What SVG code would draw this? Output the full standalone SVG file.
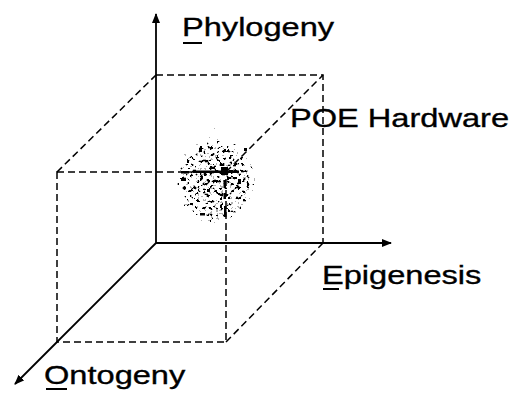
<svg xmlns="http://www.w3.org/2000/svg" width="514" height="393" viewBox="0 0 514 393">
  <style>
    .axis { stroke: #000; stroke-width: 1.8; fill: none; }
    .edge { stroke: #000; stroke-width: 1.5; fill: none; stroke-dasharray: 7 4; }
    .label { font-family: "Liberation Sans", Arial, sans-serif; font-size: 26.5px; fill: #000; stroke: #000; stroke-width: 0.35; }
    .ul { fill: #000; }
  </style>
  <defs>
    <marker id="head" viewBox="0 0 10 8" refX="9" refY="4" markerWidth="10" markerHeight="8" markerUnits="userSpaceOnUse" orient="auto">
      <path d="M0,0 L10,4 L0,8 z" fill="#000"/>
    </marker>
    <radialGradient id="cloudFade" cx="0.5" cy="0.5" r="0.5">
      <stop offset="0" stop-color="#000" stop-opacity="1"/>
      <stop offset="0.7" stop-color="#000" stop-opacity="0.85"/>
      <stop offset="1" stop-color="#000" stop-opacity="0"/>
    </radialGradient>
    <!-- speckled point cloud: thresholded noise, denser toward the centre -->
    <filter id="grain" x="160" y="125" width="115" height="115" filterUnits="userSpaceOnUse">
      <feTurbulence type="fractalNoise" baseFrequency="0.3" numOctaves="2" seed="11" result="noise"/>
      <feColorMatrix in="noise" type="matrix" values="0 0 0 0 0  0 0 0 0 0  0 0 0 0 0  1 0 0 0 0" result="na"/>
      <feComposite in="na" in2="SourceAlpha" operator="arithmetic" k1="0" k2="1" k3="0.36" k4="-0.02" result="sum"/>
      <feComponentTransfer in="sum" result="dark">
        <feFuncA type="discrete" tableValues="0 0 0 0 0 0 0 0 0 0 0 0 0 1"/>
      </feComponentTransfer>
      <feComponentTransfer in="sum" result="light">
        <feFuncA type="discrete" tableValues="0 0 0 0 0 0 0 0 0 0 0 0 0.45 0.45"/>
      </feComponentTransfer>
      <feFlood flood-color="#000" result="ink"/>
      <feComposite in="ink" in2="dark" operator="in" result="darkInk"/>
      <feFlood flood-color="#555" result="ink2"/>
      <feComposite in="ink2" in2="light" operator="in" result="lightInk"/>
      <feMerge>
        <feMergeNode in="lightInk"/>
        <feMergeNode in="darkInk"/>
      </feMerge>
    </filter>
  </defs>

  <!-- dashed box spanned by the three axes -->
  <g id="box">
    <path class="edge" d="M156,75 H323 V243"/>
    <path class="edge" d="M57,172 H226 V342 H57 Z"/>
    <path class="edge" d="M57,172 L156,75"/>
    <path class="edge" d="M226,172 L323,75"/>
    <path class="edge" d="M226,342 L323,243"/>
  </g>

  <!-- hardware point cloud -->
  <g id="poe-cloud">
    <ellipse cx="216" cy="181" rx="45" ry="49" fill="url(#cloudFade)" filter="url(#grain)"/>
    <g fill="#000">
      <rect x="193" y="170.5" width="46" height="2.5"/>
      <rect x="221" y="167" width="7" height="8"/>
      <rect x="223.5" y="180" width="2.5" height="8"/>
      <rect x="223.5" y="193" width="2.5" height="6"/>
      <rect x="224" y="206" width="2.5" height="11"/>
      <rect x="181" y="171" width="8" height="2.5"/>
      <rect x="181" y="178" width="5" height="3"/>
      <rect x="199" y="148" width="3" height="4"/>
      <rect x="238" y="179" width="3" height="5"/>
      <rect x="207" y="189" width="3" height="3"/>
      <rect x="200" y="213" width="5" height="2.5"/>
      <rect x="244" y="148" width="3" height="3"/>
    </g>
  </g>

  <!-- axes -->
  <g id="connectors">
    <line class="axis" x1="156" y1="243" x2="156" y2="14" marker-end="url(#head)"/>
    <line class="axis" x1="156" y1="243" x2="391" y2="243" marker-end="url(#head)"/>
    <line class="axis" x1="156" y1="243" x2="15" y2="384" marker-end="url(#head)"/>
  </g>

  <g id="phylogeny">
    <text class="label" transform="translate(182,36) scale(1.23,1)">Phylogeny</text>
    <rect class="ul" x="183" y="42" width="19" height="2"/>
  </g>
  <g id="poe-hardware">
    <text class="label" transform="translate(290,127) scale(1.23,1)">POE Hardware</text>
  </g>
  <g id="epigenesis">
    <text class="label" transform="translate(322,284) scale(1.23,1)">Epigenesis</text>
    <rect class="ul" x="323" y="288" width="16" height="2"/>
  </g>
  <g id="ontogeny">
    <text class="label" transform="translate(44,384) scale(1.23,1)">Ontogeny</text>
    <rect class="ul" x="46" y="388" width="21" height="2"/>
  </g>
</svg>
